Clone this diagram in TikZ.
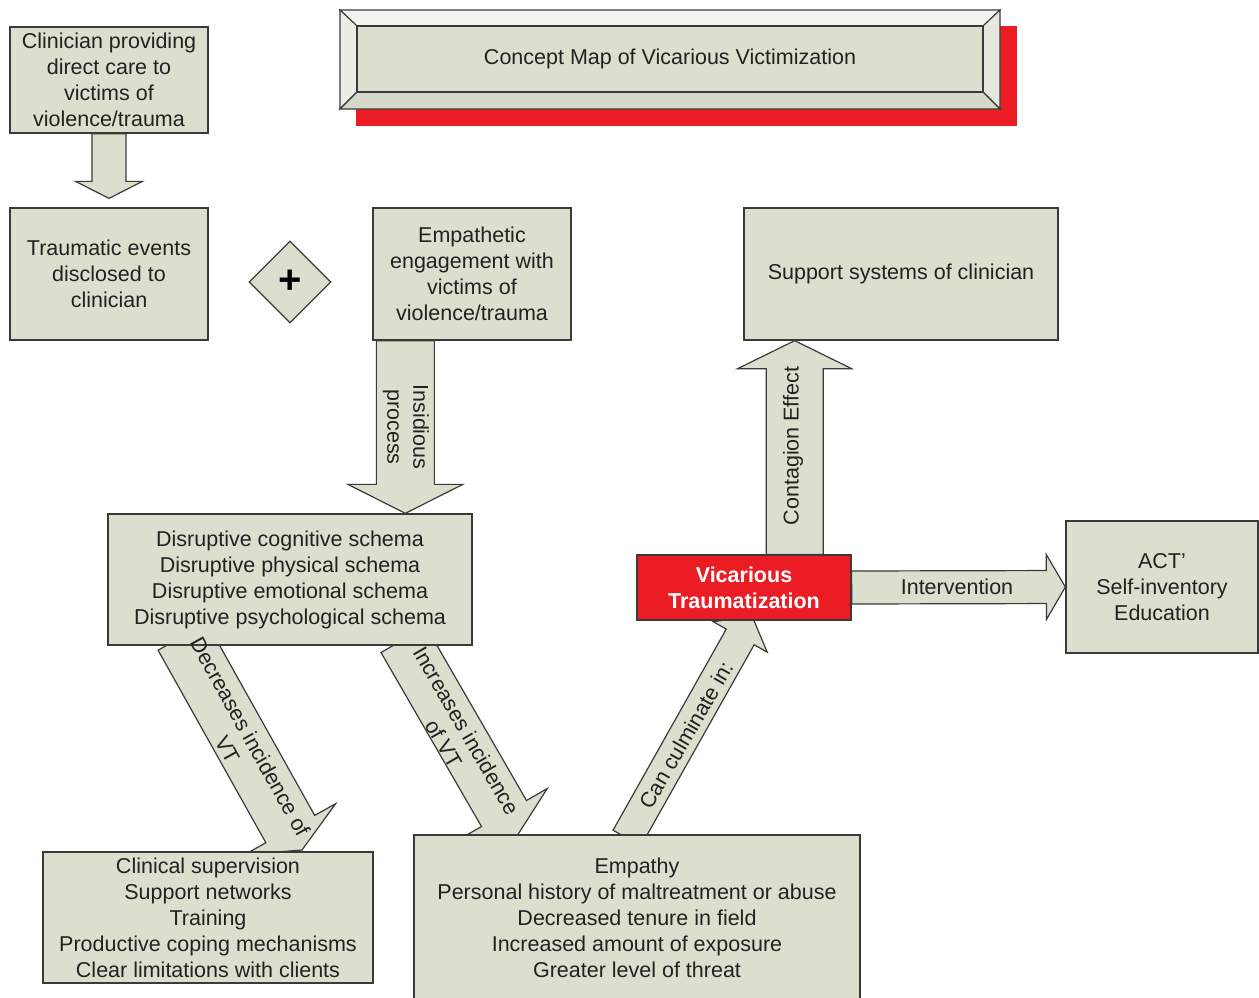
\documentclass[tikz,border=0pt]{standalone}
\usepackage{fontspec}
\setmainfont{Liberation Sans}
\usetikzlibrary{calc,shapes.geometric}
\definecolor{boxfill}{HTML}{DCDFCE}
\definecolor{boxline}{HTML}{3A3A3A}
\definecolor{vtred}{HTML}{EC1C24}
\definecolor{txt}{HTML}{222222}
\definecolor{bevtop}{HTML}{F2F3EE}
\definecolor{bevleft}{HTML}{ECEEE6}
\definecolor{bevright}{HTML}{E6E8DE}
\definecolor{bevbot}{HTML}{D6D8CC}
\pgfdeclarelayer{bg}
\pgfsetlayers{bg,main}
% #2 start, #3 tip, #4 half shaft, #5 half head, #6 head length
\newcommand{\fatarrow}[6][]{%
  \coordinate (fab) at ($(#3)!#6!(#2)$);
  \draw[fatarrowstyle,#1] ($(#2)!#4!90:(#3)$) -- ($(fab)!#4!90:(#3)$) -- ($(fab)!#5!90:(#3)$) -- (#3)
    -- ($(fab)!#5!-90:(#3)$) -- ($(fab)!#4!-90:(#3)$) -- ($(#2)!#4!-90:(#3)$) -- cycle;
}
\begin{document}
\begin{tikzpicture}[x=1pt,y=-1pt,
  box/.style={draw=boxline, line width=1.3pt, fill=boxfill, text=txt, align=center, inner sep=0pt,
    font=\fontsize{21.5}{26}\selectfont},
  fatarrowstyle/.style={draw=boxline, line width=1.2pt, fill=boxfill, line join=miter},
  lbl/.style={text=txt, align=center, inner sep=0pt, font=\fontsize{21.5}{26}\selectfont},
  bevel/.style={draw=boxline, line width=1.1pt, line join=miter}]

\useasboundingbox (0,0) rectangle (1259,997);

% ---------- title ----------
\fill[vtred] (356,26) rectangle (1017,126);
\path[bevel, fill=bevtop]   (340,10) -- (1000,10) -- (983,26) -- (357,26) -- cycle;
\path[bevel, fill=bevleft]  (340,10) -- (357,26) -- (357,92) -- (340,109) -- cycle;
\path[bevel, fill=bevright] (1000,10) -- (1000,109) -- (983,92) -- (983,26) -- cycle;
\path[bevel, fill=bevbot]   (340,109) -- (1000,109) -- (983,92) -- (357,92) -- cycle;
\node[box, line width=1.1pt, minimum width=626pt, minimum height=66pt] (T) at (670,59)
  {Concept Map of Vicarious Victimization};

% ---------- boxes ----------
\node[box, minimum width=198pt, minimum height=106pt] (A) at (109,80)
  {Clinician providing\\direct care to\\victims of\\violence/trauma};
\node[box, minimum width=198pt, minimum height=132pt] (B) at (109,274)
  {Traumatic events\\disclosed to\\clinician};
\node[diamond, draw=boxline, fill=boxfill, line width=1.3pt, minimum width=82pt, minimum height=82pt,
  inner sep=0pt, text=black, font=\fontsize{40}{40}\selectfont\bfseries] (P) at (290,282) {+};
\node[box, minimum width=198pt, minimum height=132pt] (C) at (472,274)
  {Empathetic\\engagement with\\victims of\\violence/trauma};
\node[box, minimum width=314pt, minimum height=132pt] (D) at (901,274)
  {Support systems of clinician};
\node[box, minimum width=364pt, minimum height=131pt] (E) at (290,579.5)
  {Disruptive cognitive schema\\Disruptive physical schema\\Disruptive emotional schema\\Disruptive psychological schema};
\node[box, fill=vtred, text=white, minimum width=214pt, minimum height=65pt,
  font=\fontsize{21.5}{26}\selectfont\bfseries] (VT) at (744,587.5)
  {Vicarious\\Traumatization};
\node[box, minimum width=192pt, minimum height=132pt] (F) at (1162,587)
  {ACT'\\Self-inventory\\Education};
\node[box, minimum width=330pt, minimum height=131pt] (G) at (208,917.5)
  {Clinical supervision\\Support networks\\Training\\Productive coping mechanisms\\Clear limitations with clients};
\node[box, minimum width=446pt, minimum height=165pt] (H) at (637,917.5)
  {Empathy\\Personal history of maltreatment or abuse\\Decreased tenure in field\\Increased amount of exposure\\Greater level of threat};

% ---------- block arrows (behind boxes) ----------
\coordinate (ab1) at ($(B.north)+(0,-9)$);
\coordinate (ce0) at ($(C.south west)+(33,0)$);
\coordinate (ce1) at (ce0 |- E.north);
\coordinate (vd0) at ($(VT.north east)+(-57,0)$);
\coordinate (vd1) at (vd0 |- D.south);
\coordinate (de0) at (182.5,636.5);
\coordinate (de1) at (302,850);
\coordinate (in0) at (403.5,639.5);
\coordinate (in1) at (517,836);
\coordinate (cu0) at (627,838);
\coordinate (cu1) at (752,616);
\begin{pgfonlayer}{bg}
  \fatarrow{A.south}{ab1}{17pt}{33.5pt}{17pt}
  \fatarrow{ce0}{ce1}{29pt}{57.5pt}{29pt}
  \fatarrow{vd0}{vd1}{28.5pt}{57pt}{28pt}
  \fatarrow{VT.east}{F.west}{16.5pt}{32.5pt}{19pt}
  \fatarrow{de0}{de1}{28pt}{52pt}{24pt}
  \fatarrow{in0}{in1}{26pt}{50pt}{26pt}
  \fatarrow{cu0}{cu1}{16pt}{31pt}{24pt}
\end{pgfonlayer}

% ---------- arrow labels ----------
\node[lbl, rotate=-90] (Lins) at (406,427) {Insidious\\process};
\node[lbl, rotate=90] (Lcon) at (793,446) {Contagion Effect};
\node[lbl] (Lint) at (957,587) {Intervention};
\node[lbl, rotate=-61] (Ldec) at (239,743) {Decreases incidence of\\VT};
\node[lbl, rotate=-60] (Linc) at (455,737) {Increases incidence\\of VT};
\node[lbl, rotate=60] (Lcul) at (686,735) {Can culminate in:};
\end{tikzpicture}
\end{document}
